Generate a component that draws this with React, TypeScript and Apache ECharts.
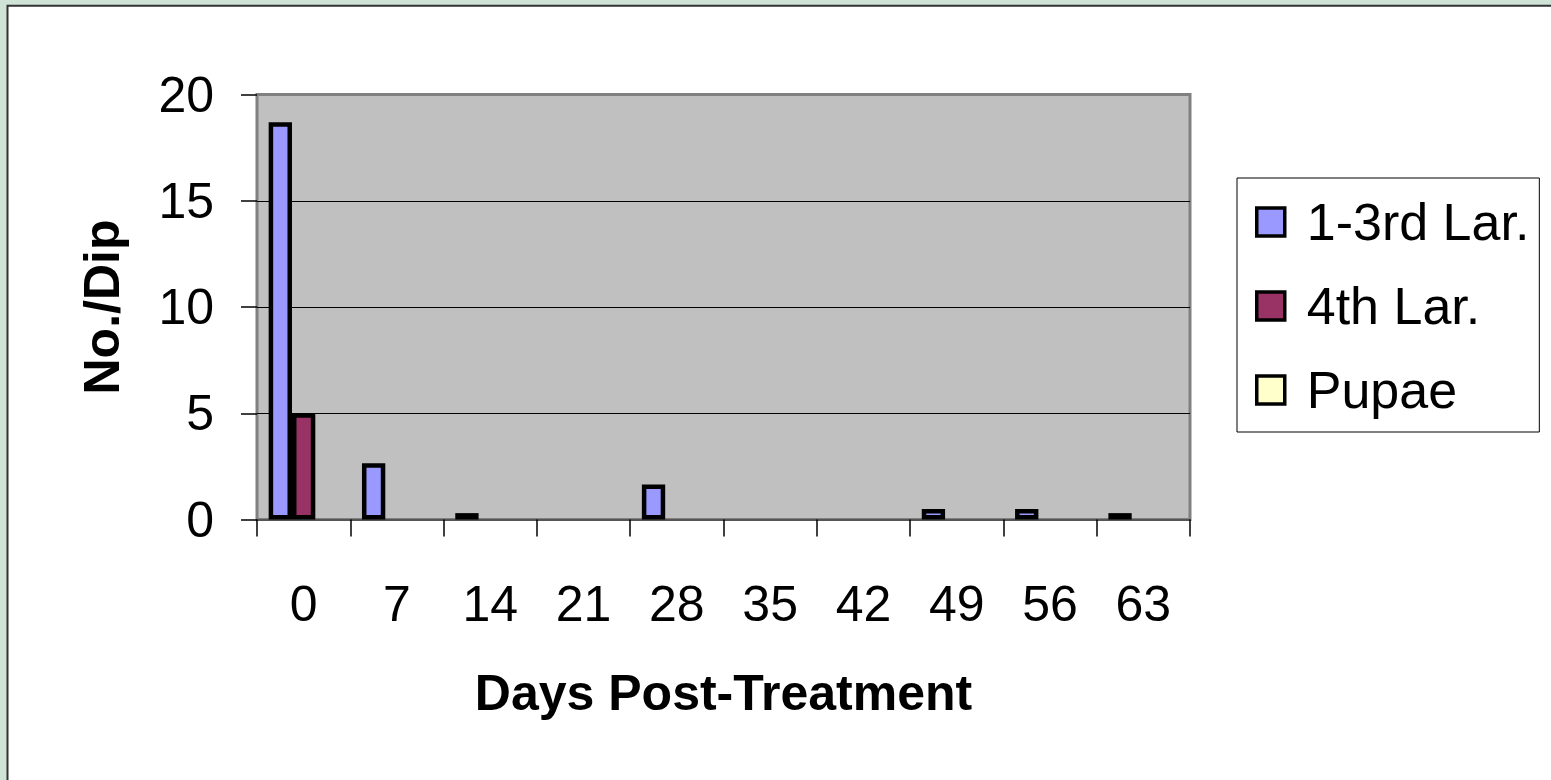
import React, { useEffect, useRef } from "react";
import * as echarts from "echarts";

const categories = ["0", "7", "14", "21", "28", "35", "42", "49", "56", "63"];
const larvae13 = [18.7, 2.65, 0.3, 0, 1.65, 0, 0, 0.5, 0.5, 0.3];
const larvae4 = [5.0, 0, 0, 0, 0, 0, 0, 0, 0, 0];
const pupae = [0, 0, 0, 0, 0, 0, 0, 0, 0, 0];
const seriesNames = ["1-3rd Lar.", "4th Lar.", "Pupae"];
const seriesColors = ["#9999ff", "#993366", "#ffffcc"];
const yTicks = { min: 0, max: 20, interval: 5 };

const FONT = "'Liberation Sans', Arial, sans-serif";

export default function App() {
  const ref = useRef<HTMLDivElement>(null);
  useEffect(() => {
    if (!ref.current) return;
    const chart = echarts.init(ref.current, null, { renderer: "svg" });
    const seriesData = [larvae13, larvae4, pupae];
    chart.setOption({
      animation: false,
      backgroundColor: "#cfe3d7",
      graphic: [
        {
          type: "rect",
          z: -100,
          silent: true,
          shape: { x: 7.5, y: 5.8, width: 1600, height: 800 },
          style: { fill: "#ffffff", stroke: "#333333", lineWidth: 2 },
        },
      ],
      grid: {
        left: 257,
        top: 94.5,
        width: 933,
        height: 425,
        show: true,
        backgroundColor: "#c0c0c0",
        borderColor: "#808080",
        borderWidth: 3,
      },
      legend: {
        orient: "vertical",
        left: 1237,
        top: 178,
        padding: [18, 10, 16, 18],
        borderColor: "#000",
        borderWidth: 1,
        backgroundColor: "#fff",
        itemWidth: 28,
        itemHeight: 28,
        itemGap: 32,
        icon: "rect",
        itemStyle: { borderColor: "#000", borderWidth: 3.5 },
        textStyle: { fontSize: 52, fontFamily: FONT, color: "#000", padding: [0, 0, 0, 17] },
        data: seriesNames,
      },
      xAxis: {
        type: "category",
        data: categories,
        name: "Days Post-Treatment",
        nameLocation: "middle",
        nameGap: 148,
        nameTextStyle: { fontSize: 50, fontWeight: "bold", fontFamily: FONT, color: "#000" },
        axisLine: { show: true, lineStyle: { color: "#555", width: 2 } },
        axisTick: { show: true, alignWithLabel: false, interval: 0, length: 17, lineStyle: { color: "#000", width: 1.5 } },
        axisLabel: { fontSize: 50, fontFamily: FONT, color: "#000", margin: 59, interval: 0 },
        splitLine: { show: false },
      },
      yAxis: {
        type: "value",
        min: yTicks.min,
        max: yTicks.max,
        interval: yTicks.interval,
        name: "No./Dip",
        nameLocation: "middle",
        nameRotate: 90,
        nameGap: 130,
        nameTextStyle: { fontSize: 50, fontWeight: "bold", fontFamily: FONT, color: "#000" },
        axisLine: { show: false },
        axisTick: { show: true, length: 16, lineStyle: { color: "#000", width: 1.5 } },
        axisLabel: { fontSize: 50, fontFamily: FONT, color: "#000", margin: 43 },
        splitLine: {
          show: true,
          lineStyle: { color: ["#808080", "#000", "#000", "#000", "#808080"], width: 1 },
        },
      },
      series: seriesNames.map((name, i) => ({
        name,
        type: "bar",
        barGap: "0%",
        barCategoryGap: "25%",
        itemStyle: { color: seriesColors[i], borderColor: "#000", borderWidth: 4.5 },
        data: seriesData[i].map((v) => (v === 0 ? null : v)),
      })),
    });
    return () => chart.dispose();
  }, []);
  return (
    <div
      ref={ref}
      style={{ position: "fixed", left: 0, top: 0, width: 1551, height: 780 }}
    />
  );
}
